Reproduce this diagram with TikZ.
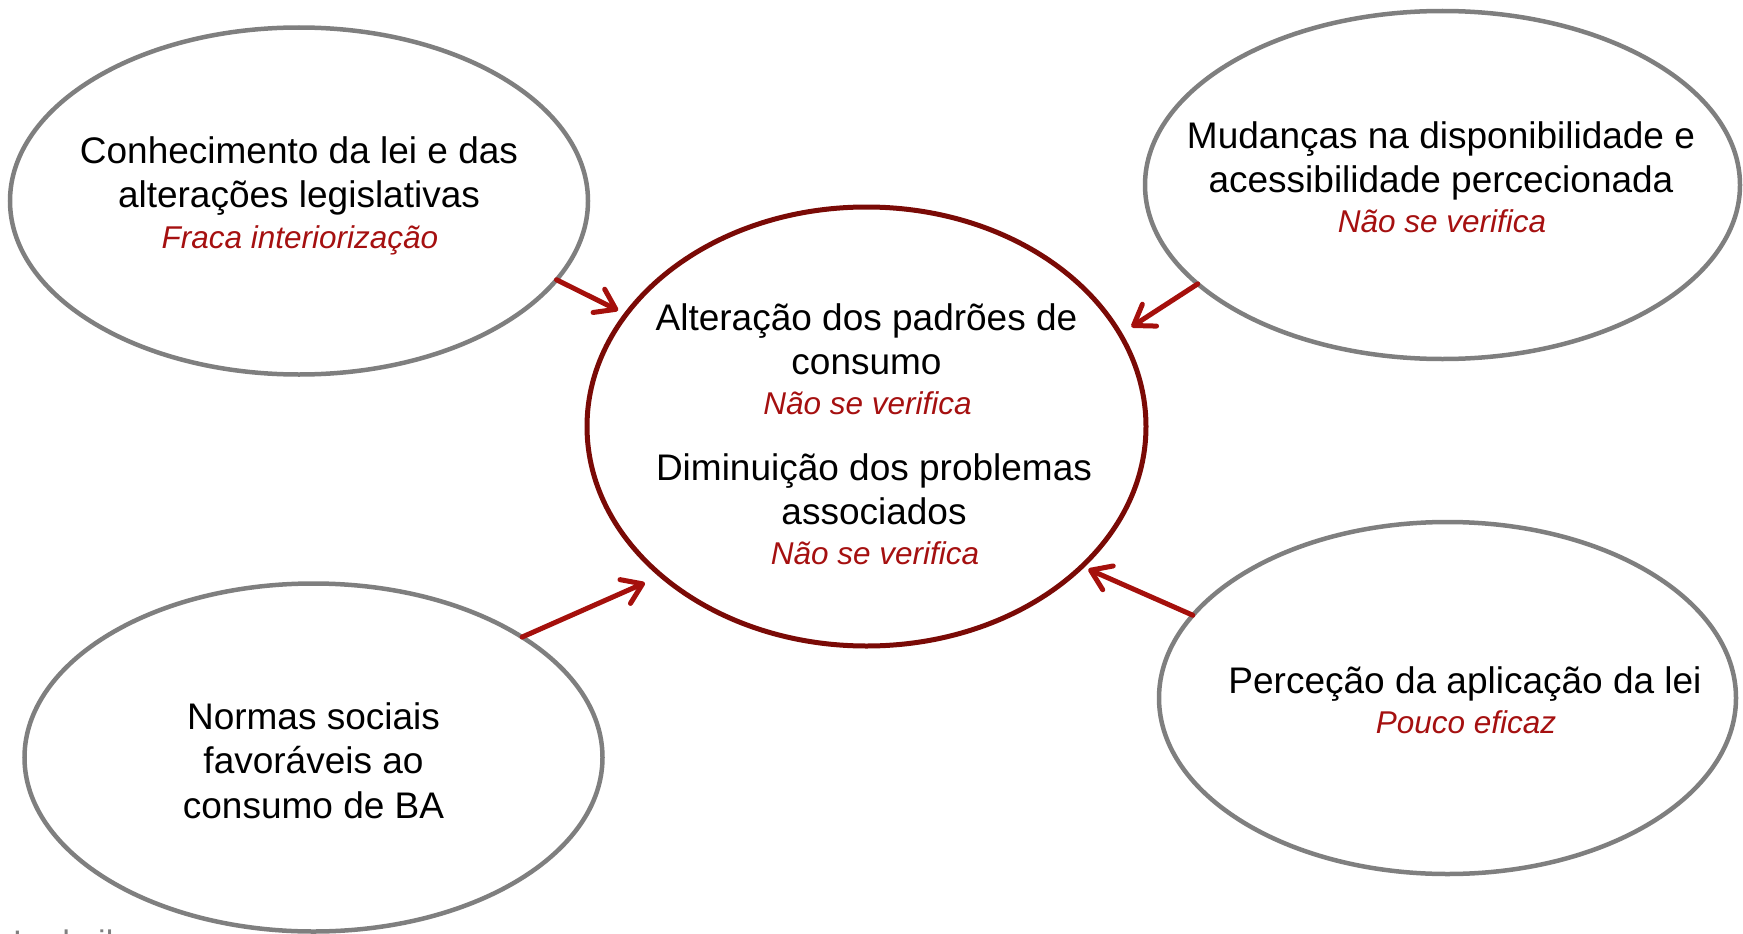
\documentclass[tikz,border=0pt]{standalone}
\usepackage{fontspec}
\setmainfont{Liberation Sans}
\usetikzlibrary{shapes.geometric,arrows.meta}
\definecolor{ellgray}{RGB}{127,127,127}
\definecolor{centred}{RGB}{122,10,6}
\definecolor{arrred}{RGB}{165,16,12}
\definecolor{txtred}{RGB}{165,16,16}
\tikzset{
  grayell/.style={ellipse, draw=ellgray, line width=4.5pt, inner sep=0pt, outer sep=0pt},
  centell/.style={ellipse, draw=centred, line width=5pt, inner sep=0pt, outer sep=0pt},
  blk/.style={anchor=base, inner sep=0pt, font=\fontsize{37}{44.5}\selectfont, text=black},
  red/.style={anchor=base, inner sep=0pt, font=\fontsize{31.5}{38}\selectfont\itshape, text=txtred},
  conn/.style={draw=arrred, line width=5pt, line cap=round, -{Straight Barb[length=19pt,width=26pt,round]}}
}
\begin{document}
\begin{tikzpicture}[x=1pt,y=-1pt]
\useasboundingbox (0,0) rectangle (1743,934);
% ellipses
\node[grayell, minimum width=578pt, minimum height=347pt] (tl) at (299,201) {};
\node[grayell, minimum width=595pt, minimum height=348pt] (tr) at (1442.5,185) {};
\node[grayell, minimum width=578pt, minimum height=348pt] (bl) at (313.5,757.5) {};
\node[grayell, minimum width=577pt, minimum height=352pt] (br) at (1447.5,698) {};
\node[centell, minimum width=559pt, minimum height=439pt] (c) at (866.5,426.5) {};
% top-left text
\node[blk] (tl1) at (299,163) {Conhecimento da lei e das};
\node[blk] (tl2) at (299,207.5) {alterações legislativas};
\node[red] (tl3) at (300,248) {Fraca interiorização};
% top-right text
\node[blk] (tr1) at (1441,148.6) {Mudanças na disponibilidade e};
\node[blk] (tr2) at (1441,192.5) {acessibilidade percecionada};
\node[red] (tr3) at (1442,232.5) {Não se verifica};
% centre text
\node[blk] (c1) at (866.5,330) {Alteração dos padrões de};
\node[blk] (c2) at (866.5,374.5) {consumo};
\node[red] (c3) at (867.5,414.7) {Não se verifica};
\node[blk] (c4) at (874,480) {Diminuição dos problemas};
\node[blk] (c5) at (874,524.5) {associados};
\node[red] (c6) at (875,564.8) {Não se verifica};
% bottom-left text
\node[blk] (bl1) at (313.5,729) {Normas sociais};
\node[blk] (bl2) at (313.5,773.5) {favoráveis ao};
\node[blk] (bl3) at (313.5,818) {consumo de BA};
% bottom-right text
\node[blk] (br1) at (1465,693.4) {Perceção da aplicação da lei};
\node[red] (br2) at (1466,733.7) {Pouco eficaz};
% cut-off footer text (cut off by the lower edge, as in the reference)
\node[anchor=base west, inner sep=0pt, font=\fontsize{34}{40}\selectfont, text=ellgray] (foot) at (13,954) {Ludmila};
% connectors
\draw[conn, shorten >=9pt] (tl.-17.7) -- (c.155.6);
\draw[conn, shorten >=13.5pt] (tr.-158.5) -- (c.20.35);
\draw[conn, shorten >=18pt] (bl.30.8) -- (c.-144.1);
\draw[conn, shorten >=7pt] (br.162.1) -- (c.-33.2);
\end{tikzpicture}
\end{document}
